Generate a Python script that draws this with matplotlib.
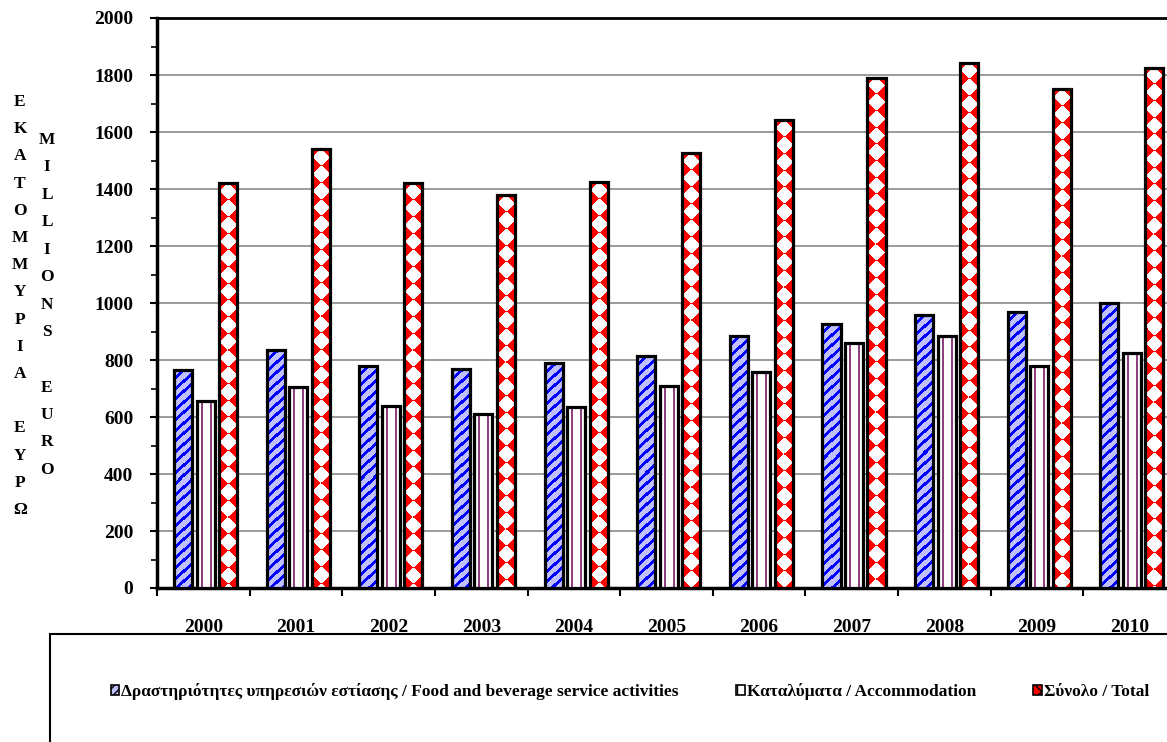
import numpy as np
import matplotlib
matplotlib.use("Agg")
import matplotlib.pyplot as plt
from matplotlib.patches import Patch, Rectangle
from matplotlib.ticker import MultipleLocator, FixedLocator
from matplotlib.colors import to_rgb

years = ["2000", "2001", "2002", "2003", "2004", "2005",
         "2006", "2007", "2008", "2009", "2010"]
food = [765, 835, 780, 768, 788, 815, 885, 928, 958, 970, 1000]
accommodation = [655, 705, 640, 610, 635, 710, 757, 860, 885, 780, 825]
total = [1420, 1540, 1420, 1378, 1423, 1525, 1642, 1790, 1843, 1750, 1825]

labels = ["Δραστηριότητες υπηρεσιών εστίασης / Food and beverage service activities",
          "Καταλύματα / Accommodation",
          "Σύνολο / Total"]

greek_axis = list("ΕΚΑΤΟΜΜΥΡΙΑ ΕΥΡΩ")
latin_axis = list("MILLIONS EURO")

plt.rcParams["font.family"] = ["Liberation Serif", "DejaVu Serif"]
plt.rcParams["font.weight"] = "bold"


def fill_pattern(kind, w, h):
    # pixel-level fill so the stripes / diamonds have the right size
    px, py = np.meshgrid(np.arange(w) - w / 2 + 0.5, np.arange(h) + 0.5)
    if kind == "stripes":
        bg, fg = to_rgb("#c0c0ff"), to_rgb("#0000ff")
        period = 10.5
        mask = ((px + py) % period) < 3.6
    elif kind == "vlines":
        bg, fg = to_rgb("#ffffff"), to_rgb("#8e3f80")
        period = 7.4
        mask = np.abs((px % period) - period / 2) < 1.0
    else:
        bg, fg = to_rgb("#ffffff"), to_rgb("#ff0000")
        d = 16.7
        u = np.floor((px + py) / d)
        v = np.floor((px - py) / d)
        mask = ((u + v) % 2) == 0
    img = np.empty((h, w, 3))
    img[:] = bg
    img[mask] = fg
    return img


fig = plt.figure(figsize=(11.67, 7.42), dpi=100)
ax = fig.add_axes([157 / 1167, 1 - 588 / 742, 1019 / 1167, 570 / 742])

x = np.arange(len(years))
width = 0.195
offsets = [-0.219, 0.024, 0.267]
kinds = ["stripes", "vlines", "diamonds"]
faces = ["#c0c0ff", "#ffffff", "#ff0000"]

ax.set_xlim(-0.5, len(years) - 0.5)
ax.set_ylim(0, 2000)

for vals, off, kind, face in zip([food, accommodation, total], offsets, kinds, faces):
    bars = ax.bar(x + off, vals, width, color=face, linewidth=0, zorder=3)
    for b in bars:
        x0, x1 = b.get_x(), b.get_x() + b.get_width()
        y1 = b.get_height()
        (p0x, p0y), (p1x, p1y) = ax.transData.transform([(x0, 0), (x1, y1)])
        w_px = max(int(round(p1x - p0x)), 1)
        h_px = max(int(round(p1y - p0y)), 1)
        ax.imshow(fill_pattern(kind, w_px, h_px), extent=(x0, x1, 0, y1),
                  aspect="auto", interpolation="nearest", zorder=3.5)
    ax.bar(x + off, vals, width, fill=False, edgecolor="black", linewidth=2.3, zorder=4)

ax.set_xlim(-0.5, len(years) - 0.5)
ax.set_ylim(0, 2000)

ax.yaxis.set_major_locator(MultipleLocator(200))
ax.yaxis.set_minor_locator(MultipleLocator(100))
ax.grid(axis="y", which="major", color="#808080", linewidth=1.1, zorder=0)

ax.xaxis.set_major_locator(FixedLocator(x - 0.5))
ax.xaxis.set_minor_locator(FixedLocator(x))
ax.set_xticklabels([], minor=False)
ax.set_xticklabels(years, minor=True)
ax.tick_params(axis="x", which="major", length=6, width=1.5, direction="out")
ax.tick_params(axis="x", which="minor", length=0, pad=22, labelsize=14)
ax.tick_params(axis="y", which="major", length=5, width=1.5, pad=12, labelsize=14)
ax.tick_params(axis="y", which="minor", length=4, width=1.2)

for s in ["left", "bottom"]:
    ax.spines[s].set_linewidth(2.5)
ax.spines["top"].set_linewidth(2)
ax.spines["right"].set_visible(False)

# stacked vertical axis titles
y0 = 1 - 102 / 742
for i, ch in enumerate(greek_axis):
    fig.text(20 / 1167, y0 - i * 27.2 / 742, ch, ha="center", va="center",
             fontsize=12.5, fontweight="bold")
y1 = 1 - 140 / 742
for i, ch in enumerate(latin_axis):
    fig.text(47 / 1167, y1 - i * 27.5 / 742, ch, ha="center", va="center",
             fontsize=12.5, fontweight="bold")

# legend frame
fig.patches.append(Rectangle((50 / 1167, -0.05), 1.1, 1 - 634 / 742 + 0.05,
                             transform=fig.transFigure, fill=False,
                             edgecolor="black", linewidth=1.5))

handles = [
    Patch(facecolor="#c0c0ff", edgecolor="#000080", hatch="////", linewidth=1.2),
    Patch(facecolor="#ffffff", edgecolor="#800060", hatch="||", linewidth=1.2),
    Patch(facecolor="#ff0000", edgecolor="#ffffff", hatch="xx", linewidth=1.2),
]
leg = fig.legend(handles, labels, loc="center", bbox_to_anchor=(630 / 1167, 1 - 692 / 742),
                 ncol=3, frameon=False, handlelength=0.5, handleheight=0.5,
                 handletextpad=0.12, columnspacing=3.3,
                 prop={"size": 12.5, "weight": "bold"})
for p in leg.get_patches():
    p.set_edgecolor("black")

fig.savefig("out.png", dpi=100)
